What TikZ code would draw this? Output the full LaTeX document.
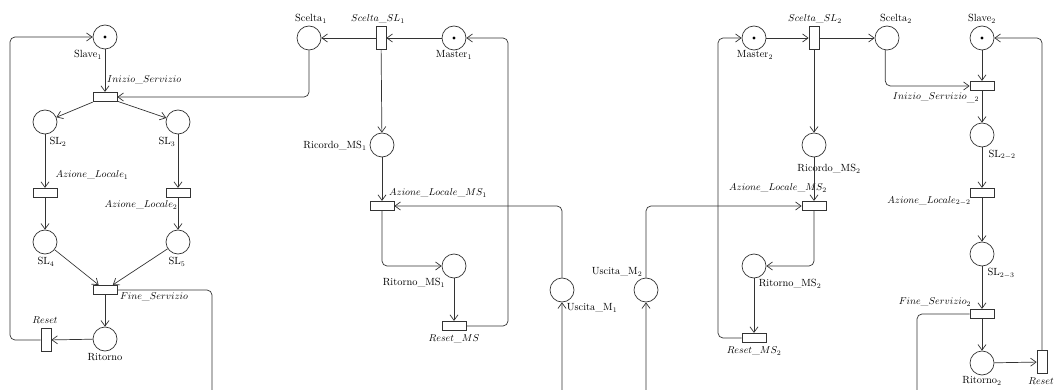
\documentclass[tikz,border=0pt]{standalone}
\usetikzlibrary{arrows.meta}
\begin{document}
\begin{tikzpicture}[x=1pt,y=-1pt,
  place/.style={circle,draw=black!80,line width=0.7pt,minimum size=24pt,inner sep=0pt},
  htrans/.style={rectangle,draw=black!80,line width=0.7pt,minimum width=24pt,minimum height=9.5pt,inner sep=0pt},
  vtrans/.style={rectangle,draw=black!80,line width=0.7pt,minimum width=10pt,minimum height=23pt,inner sep=0pt},
  token/.style={circle,fill=black,minimum size=3.2pt,inner sep=0pt},
  arc/.style={draw=black!80,line width=0.7pt,rounded corners=5pt,-{Straight Barb[length=5.5pt,width=8pt]}},
  lbl/.style={inner sep=0pt,font=\fontsize{10.4}{12}\selectfont}]
\useasboundingbox (0,0) rectangle (1054,390);
\clip (0,0) rectangle (1054,390);

% ---------- left part (Slave 1) ----------
\node[place] (slave1) at (105,37) {};
\node[token] (tok1) at (slave1) {};
\node[htrans] (ini) at (105,97) {};
\node[place] (sl2) at (45,122) {};
\node[place] (sl3) at (178,122) {};
\node[htrans] (al1) at (45,193) {};
\node[htrans] (al2) at (178,193) {};
\node[place] (sl4) at (45,242) {};
\node[place] (sl5) at (178,242) {};
\node[htrans] (fine) at (105,290) {};
\node[place] (rit) at (105,339) {};
\node[vtrans] (reset) at (46,340) {};

\node[lbl] (lslave1) at (88,55) {Slave$_1$};
\node[lbl,anchor=west] (lini) at (107,80) {$Inizio\_Servizio$};
\node[lbl] (lsl2) at (58,142) {SL$_2$};
\node[lbl] (lsl3) at (167,142) {SL$_3$};
\node[lbl] (lal1) at (92,175) {$Azione\_Locale_1$};
\node[lbl] (lal2) at (141,205) {$Azione\_Locale_2$};
\node[lbl] (lsl4) at (46,262) {SL$_4$};
\node[lbl] (lsl5) at (177,262) {SL$_5$};
\node[lbl] (lfine) at (154,297) {$Fine\_Servizio$};
\node[lbl] (lreset) at (45,320) {$Reset$};
\node[lbl] (lrit) at (105,357) {Ritorno};

\draw[arc] (slave1) -- (ini);
\draw[arc] (ini) -- (sl2);
\draw[arc] (ini) -- (sl3);
\draw[arc] (sl2) -- (al1);
\draw[arc] (sl3) -- (al2);
\draw[arc] (al1) -- (sl4);
\draw[arc] (al2) -- (sl5);
\draw[arc] (sl4) -- (fine);
\draw[arc] (sl5) -- (fine);
\draw[arc] (fine) -- (rit);
\draw[arc] (rit) -- (reset);
\coordinate (cl1) at (10,340);
\coordinate (cl2) at (10,37);
\draw[arc] (reset.west) -- (cl1) -- (cl2) -- (slave1.west);

% ---------- middle part (Master 1) ----------
\node[place] (scelta1) at (309,38) {};
\node[vtrans] (ssl1) at (381,38) {};
\node[place] (master1) at (454,38) {};
\node[token] (tok2) at (master1) {};
\node[place] (ric1) at (382,145) {};
\node[htrans] (alms1) at (382,206) {};
\node[place] (ritms1) at (454,266) {};
\node[htrans] (resetms) at (454,326) {};
\node[place] (usc1) at (562,290) {};

\node[lbl] (lscelta1) at (311,19) {Scelta$_1$};
\node[lbl] (lssl1) at (378,19) {$Scelta\_SL_1$};
\node[lbl] (lmaster1) at (454,55) {Master$_1$};
\node[lbl] (lric1) at (335,146) {Ricordo\_MS$_1$};
\node[lbl] (lalms1) at (438,193) {$Azione\_Locale\_MS_1$};
\node[lbl] (lritms1) at (414,283) {Ritorno\_MS$_1$};
\node[lbl] (lresetms) at (454,339) {$Reset\_MS$};
\node[lbl] (lusc1) at (592,308) {Uscita\_M$_1$};

\draw[arc] (master1) -- (ssl1);
\draw[arc] (ssl1) -- (scelta1);
\draw[arc] (scelta1.south) |- (ini.east);
\draw[arc] (ssl1) -- (ric1);
\draw[arc] (ric1) -- (alms1);
\draw[arc] (alms1.south) |- (ritms1.west);
\draw[arc] (ritms1) -- (resetms);
\coordinate (cm1) at (508,326);
\coordinate (cm2) at (508,38);
\draw[arc] (resetms.east) -- (cm1) -- (cm2) -- (master1.east);
\draw[arc] (usc1.north) |- (alms1.east);
\coordinate (b1) at (212,420);
\draw[arc] (fine.east) -| (b1) -| (usc1.south);

% ---------- right part (Master 2 / Slave 2) ----------
\node[place] (usc2) at (646,290) {};
\node[place] (master2) at (754,38) {};
\node[token] (tok3) at (master2) {};
\node[vtrans] (ssl2) at (814,38) {};
\node[place] (scelta2) at (887,38) {};
\node[place] (ric2) at (814,145) {};
\node[htrans] (alms2) at (814,206) {};
\node[place] (ritms2) at (754,266) {};
\node[htrans] (resetms2) at (754,338) {};
\node[place] (slave2) at (982,38) {};
\node[token] (tok4) at (slave2) {};
\node[htrans] (ini2) at (982,86) {};
\node[place] (sl22) at (982,135) {};
\node[htrans] (al22) at (982,193) {};
\node[place] (sl23) at (982,254) {};
\node[htrans] (fine2) at (982,314) {};
\node[place] (rit2) at (982,363) {};
\node[vtrans] (reset2) at (1042,362) {};

\node[lbl] (lusc2) at (617,272) {Uscita\_M$_2$};
\node[lbl] (lmaster2) at (755,55) {Master$_2$};
\node[lbl] (lssl2) at (815,19) {$Scelta\_SL_2$};
\node[lbl] (lscelta2) at (896,19) {Scelta$_2$};
\node[lbl] (lric2) at (829,169) {Ricordo\_MS$_2$};
\node[lbl] (lalms2) at (778,188) {$Azione\_Locale\_MS_2$};
\node[lbl] (lritms2) at (790,284) {Ritorno\_MS$_2$};
\node[lbl] (lresetms2) at (754,351) {$Reset\_MS_2$};
\node[lbl] (lslave2) at (982,19) {Slave$_2$};
\node[lbl] (lini2) at (936,98) {$Inizio\_Servizio_{\_2}$};
\node[lbl] (lsl22) at (1002,155) {SL$_{2-2}$};
\node[lbl] (lal22) at (929,201) {$Azione\_Locale_{2-2}$};
\node[lbl] (lsl23) at (1001,273) {SL$_{2-3}$};
\node[lbl] (lfine2) at (935,302) {$Fine\_Servizio_2$};
\node[lbl] (lrit2) at (982,381) {Ritorno$_2$};
\node[lbl] (lreset2) at (1041,381) {$Reset$};

\draw[arc] (master2) -- (ssl2);
\draw[arc] (ssl2) -- (scelta2);
\draw[arc] (ssl2) -- (ric2);
\draw[arc] (ric2) -- (alms2);
\draw[arc] (alms2.south) |- (ritms2.east);
\draw[arc] (ritms2) -- (resetms2);
\coordinate (cr1) at (718,338);
\coordinate (cr2) at (718,38);
\draw[arc] (resetms2.west) -- (cr1) -- (cr2) -- (master2.west);
\draw[arc] (usc2.north) |- (alms2.west);
\draw[arc] (scelta2.262) |- (ini2.west);
\draw[arc] (slave2) -- (ini2);
\draw[arc] (ini2) -- (sl22);
\draw[arc] (sl22) -- (al22);
\draw[arc] (al22) -- (sl23);
\draw[arc] (sl23) -- (fine2);
\draw[arc] (fine2) -- (rit2);
\draw[arc] (rit2) -- (reset2);
\draw[arc] (reset2.north) |- (slave2.east);
\coordinate (b2) at (917,420);
\draw[arc] (fine2.west) -| (b2) -| (usc2.south);
\end{tikzpicture}
\end{document}
